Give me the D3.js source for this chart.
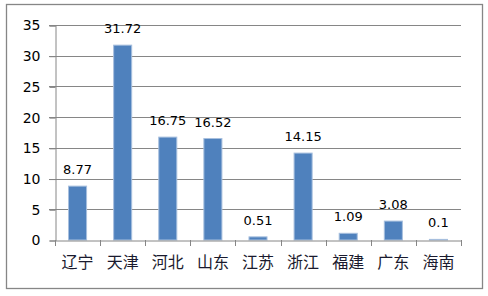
<!DOCTYPE html>
<html>
<head>
<meta charset="utf-8">
<script src="https://cdn.jsdelivr.net/npm/d3@7"></script>
<style>
  body { margin: 0; background: #fff; }
</style>
</head>
<body>
<div id="chart"></div>
<script>
var provinces = ["辽宁", "天津", "河北", "山东", "江苏", "浙江", "福建", "广东", "海南"];
var values = [8.77, 31.72, 16.75, 16.52, 0.51, 14.15, 1.09, 3.08, 0.1];
var yTicks = [0, 5, 10, 15, 20, 25, 30, 35];

var width = 488, height = 296;
var plotLeft = 55, plotRight = 461, plotTop = 25, plotBottom = 240;

var svg = d3.select("#chart").append("svg")
  .attr("width", width)
  .attr("height", height);

// chart border
svg.append("rect")
  .attr("x", 6.5).attr("y", 4.5)
  .attr("width", 476).attr("height", 284)
  .attr("fill", "#fff")
  .attr("stroke", "#868686")
  .attr("stroke-width", 1.3);

var x = d3.scaleBand().domain(provinces).range([plotLeft, plotRight]);
var y = d3.scaleLinear().domain([0, 35]).range([plotBottom, plotTop]);

// gridlines
svg.selectAll(".grid")
  .data(yTicks.filter(function(d) { return d > 0; }))
  .enter().append("line")
  .attr("x1", plotLeft - 6).attr("x2", plotRight)
  .attr("y1", function(d) { return Math.round(y(d)) + 0.5; })
  .attr("y2", function(d) { return Math.round(y(d)) + 0.5; })
  .attr("stroke", "#868686");

// y axis
var yAxis = svg.append("g")
  .attr("transform", "translate(" + (plotLeft + 0.5) + ",0.5)")
  .call(d3.axisLeft(y).tickValues(yTicks).tickSize(6).tickPadding(9));
yAxis.select(".domain").attr("stroke", "#868686");
yAxis.selectAll(".tick line").attr("stroke", "#868686");
yAxis.selectAll("text")
  .attr("font-family", "DejaVu Sans, sans-serif")
  .attr("font-size", 14)
  .attr("fill", "#000");

// bars
svg.selectAll(".bar")
  .data(values)
  .enter().append("rect")
  .attr("x", function(d, i) { return x(provinces[i]) + x.bandwidth() * 0.3; })
  .attr("width", x.bandwidth() * 0.4)
  .attr("y", function(d) { return y(d); })
  .attr("height", function(d) { return plotBottom - y(d); })
  .attr("fill", "#4F81BD")
  .attr("stroke", "#a7bfde")
  .attr("stroke-width", 1);

// value labels
svg.selectAll(".val")
  .data(values)
  .enter().append("text")
  .attr("x", function(d, i) { return x(provinces[i]) + x.bandwidth() / 2; })
  .attr("y", function(d) { return y(d) - 12; })
  .attr("text-anchor", "middle")
  .attr("font-family", "DejaVu Sans, sans-serif")
  .attr("font-size", 13)
  .attr("fill", "#000")
  .text(function(d) { return d; });

// x axis
var xAxis = svg.append("g")
  .attr("transform", "translate(0," + (plotBottom + 0.5) + ")")
  .call(d3.axisBottom(x).tickSize(0).tickPadding(16));
xAxis.select(".domain").attr("stroke", "#868686");
xAxis.selectAll("text")
  .attr("font-family", "Noto Sans CJK SC, sans-serif")
  .attr("font-size", 16)
  .attr("fill", "#1a1a2e");

// category separators
svg.selectAll(".xtick")
  .data(d3.range(provinces.length + 1))
  .enter().append("line")
  .attr("x1", function(i) { return Math.round(plotLeft + i * x.step()) + 0.5; })
  .attr("x2", function(i) { return Math.round(plotLeft + i * x.step()) + 0.5; })
  .attr("y1", plotBottom)
  .attr("y2", plotBottom + 6)
  .attr("stroke", "#868686");
</script>
</body>
</html>
